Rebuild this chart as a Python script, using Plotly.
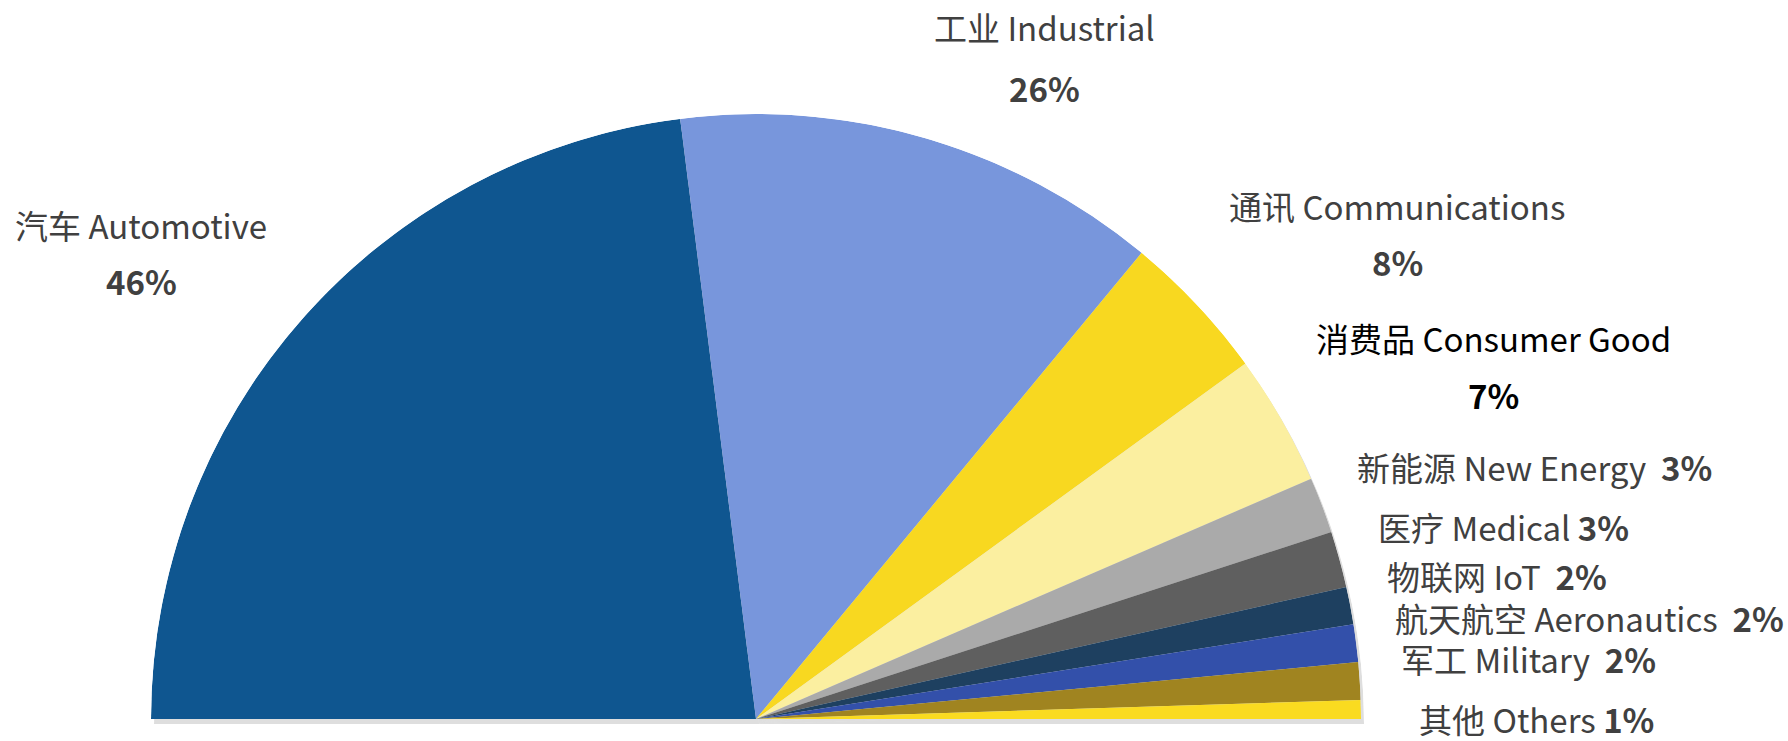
import plotly.graph_objects as go

# ---- data ----
names_cn = ["汽车", "工业", "通讯", "消费品", "新能源", "医疗", "物联网", "航天航空", "军工", "其他"]
names_en = ["Automotive", "Industrial", "Communications", "Consumer Good", "New Energy",
            "Medical", "IoT", "Aeronautics", "Military", "Others"]
shares = [46, 26, 8, 7, 3, 3, 2, 2, 2, 1]
colors = ["#0f5690", "#7896dc", "#f8d820", "#fbefa0", "#aaaaaa",
          "#5f5f5f", "#1e4060", "#3350aa", "#a08420", "#fadb20"]

total = sum(shares)
deg_per_unit = 180.0 / total
widths = [v * deg_per_unit for v in shares]
thetas = []
acc = 0.0
for w in widths:
    thetas.append(acc + w / 2)
    acc += w

W, H = 1788, 741
def px(x):
    return x / W
def py(y):
    return 1 - y / H

fig = go.Figure()

# soft shadow (drawn first, in the first polar subplot)
fig.add_trace(go.Barpolar(
    r=[1] * len(shares), theta=thetas, width=widths,
    marker=dict(color="rgba(0,0,0,0.13)", line=dict(width=0)),
    hoverinfo="skip", subplot="polar", showlegend=False))

fig.add_trace(go.Barpolar(
    r=[1] * len(shares), theta=thetas, width=widths,
    marker=dict(color=colors, line=dict(width=0)),
    text=names_en, hoverinfo="text", subplot="polar2", showlegend=False))

axis_off = dict(showline=False, showgrid=False, showticklabels=False, ticks="")
polar_common = dict(
    sector=[0, 180], bgcolor="rgba(0,0,0,0)", hole=0,
    radialaxis=dict(range=[0, 1], visible=False),
    angularaxis=dict(direction="clockwise", rotation=180, **axis_off),
)

cx0, cx1, ytop, ybot = 151, 1361, 114, 719
fig.update_layout(
    width=W, height=H,
    margin=dict(l=0, r=0, t=0, b=0),
    paper_bgcolor="white", plot_bgcolor="white",
    font=dict(family="Noto Sans CJK SC, Noto Sans, sans-serif", size=33, color="#404040"),
    polar=dict(domain=dict(x=[px(cx0 + 3), px(cx1 + 3)], y=[py(ybot + 5), py(ytop + 5)]), **polar_common),
    polar2=dict(domain=dict(x=[px(cx0), px(cx1)], y=[py(ybot), py(ytop)]), **polar_common),
)

NB = "\u00a0"
anns = []
def add(x, y, text, color="#404040", anchor="center"):
    anns.append(dict(x=px(x), y=py(y), xref="paper", yref="paper", text=text,
                     showarrow=False, xanchor=anchor, yanchor="middle",
                     font=dict(color=color)))

two_line = {0: (141, 225, 281), 1: (1044, 27, 88), 2: (1397, 206, 262), 3: (1493, 338, 395)}
for i, (x, yn, yp) in two_line.items():
    c = "#000000" if i == 3 else "#404040"
    add(x, yn, f"{names_cn[i]} {names_en[i]}", c)
    add(x, yp, f"<b>{shares[i]}%</b>", c)

one_line = {4: (1355, 467, 2), 5: (1376, 527, 1), 6: (1385, 576, 2),
            7: (1393, 618, 2), 8: (1399, 659, 2), 9: (1417, 719, 1)}
for i, (x, y, gap) in one_line.items():
    sep = " " + NB * (gap - 1)
    add(x, y, f"{names_cn[i]} {names_en[i]}{sep}<b>{shares[i]}%</b>", anchor="left")

fig.update_layout(annotations=anns)
fig.write_html("out.html")
